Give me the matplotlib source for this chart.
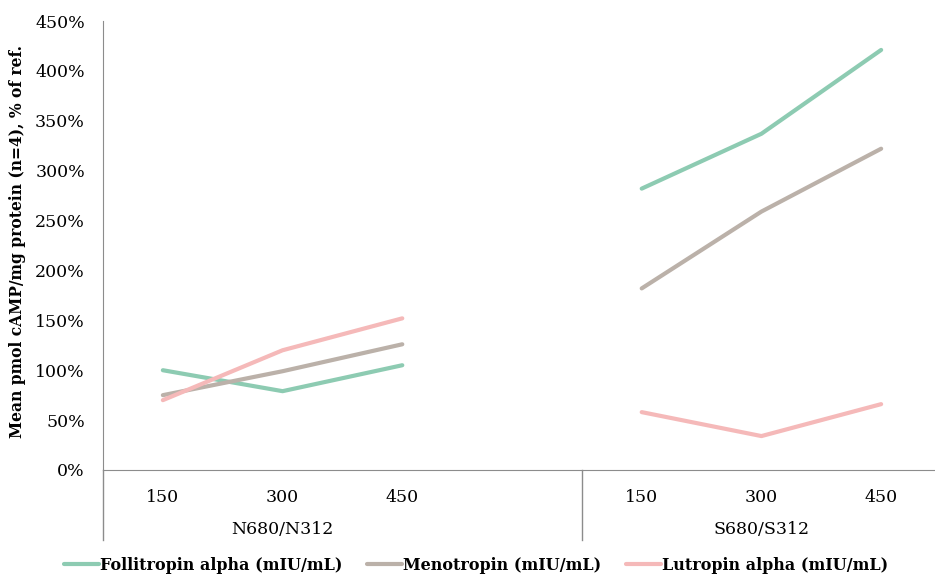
import matplotlib.pyplot as plt
from matplotlib.lines import Line2D

# doses within each cell group
doses = ["150", "300", "450"]
groups = ["N680/N312", "S680/S312"]

follitropin = [100, 79, 105, 282, 337, 421]
menotropin = [75, 99, 126, 182, 259, 322]
lutropin = [70, 120, 152, 58, 34, 66]

names = ["Follitropin alpha (mIU/mL)", "Menotropin (mIU/mL)", "Lutropin alpha (mIU/mL)"]
colors = ["#8dcbb2", "#bbb1a9", "#f5b9b9"]

plt.rcParams['font.family'] = ['DejaVu Serif']

fig = plt.figure(figsize=(9.35, 5.75), dpi=100)
ax = fig.add_axes([103/935, 105/575, 838/935, 449/575])

# first group at 0,1,2 and second at 4,5,6 (empty slot between)
xa = [0, 1, 2]
xb = [4, 5, 6]
for vals, name, c in zip([follitropin, menotropin, lutropin], names, colors):
    ax.plot(xa, vals[:3], color=c, lw=3.0, solid_capstyle='round', label=name)
    ax.plot(xb, vals[3:], color=c, lw=3.0, solid_capstyle='round')

ax.set_xlim(-0.5, 6.5)
ax.set_ylim(0, 450)
ax.set_yticks(range(0, 451, 50))
ax.set_yticklabels([f"{v}%" for v in range(0, 451, 50)], fontsize=12.5)
ax.tick_params(axis='y', length=0, pad=13)
ax.set_xticks(xa + xb)
ax.set_xticklabels(doses + doses, fontsize=12.5)
ax.tick_params(axis='x', length=0, pad=14)

for s in ['top', 'right']:
    ax.spines[s].set_visible(False)
ax.spines['left'].set_color('#8c8c8c')
ax.spines['bottom'].set_color('#8c8c8c')

# group dividers below the axis
ybot = -(540 - 470) / 449
ax.add_line(Line2D([-0.5, -0.5], [ybot, 0], transform=ax.get_xaxis_transform(),
                   color='#8c8c8c', lw=1, clip_on=False))
ax.add_line(Line2D([3.5, 3.5], [ybot, 0], transform=ax.get_xaxis_transform(),
                   color='#8c8c8c', lw=1, clip_on=False))
ax.text(1, -(530 - 470) / 449, groups[0], transform=ax.get_xaxis_transform(),
        ha='center', va='center', fontsize=12.5)
ax.text(5, -(530 - 470) / 449, groups[1], transform=ax.get_xaxis_transform(),
        ha='center', va='center', fontsize=12.5)

fig.text(18/935, 1 - 242/575, "Mean pmol cAMP/mg protein (n=4), % of ref.", rotation=90,
         ha='center', va='center', fontsize=11.2, fontweight='bold')

leg = fig.legend(loc='center', bbox_to_anchor=(476/935, 1 - 565/575), ncol=3, frameon=False,
                 prop={'weight': 'bold', 'size': 11.5}, handlelength=2.2, handletextpad=0.1,
                 columnspacing=1.5)

fig.savefig("out.png", dpi=100)
